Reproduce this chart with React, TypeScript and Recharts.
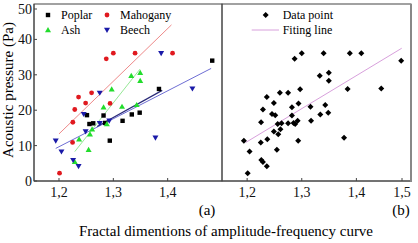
import React from "react";
import { Scatter, ScatterChart, XAxis, YAxis } from "recharts";

const SERIF = "'Liberation Serif', 'Times New Roman', serif";

// values: [fractal dimension, acoustic pressure]
const poplar = [
    [1.2515, 18.6], [1.282, 18.5], [1.256, 16.1], [1.263, 16.3], [1.285, 16.4], [1.317, 17.0],
    [1.334, 18.8], [1.3485, 19.3], [1.2935, 11.4], [1.384, 26.0], [1.482, 34.0],
];
const mahogany = [
    [1.201, 2.2], [1.225, 10.9], [1.2255, 16.6], [1.229, 20.2], [1.236, 23.7], [1.249, 22.0],
    [1.26, 24.9], [1.287, 34.5], [1.3, 36.1], [1.294, 21.9], [1.34, 36.1], [1.409, 36.1],
];
const ash = [
    [1.229, 5.4], [1.237, 11.8], [1.2545, 8.8], [1.257, 13.2], [1.261, 14.6], [1.288, 16.1],
    [1.282, 20.8], [1.297, 25.9], [1.316, 21.0], [1.333, 29.7], [1.3495, 30.6], [1.3495, 28.3],
    [1.343, 21.5],
];
const beech = [
    [1.194, 11.4], [1.2045, 8.3], [1.226, 5.9], [1.236, 4.2], [1.2455, 18.9], [1.249, 14.0],
    [1.275, 16.3], [1.275, 24.9], [1.2925, 17.0], [1.3775, 12.2], [1.388, 36.1], [1.4455, 26.1],
];

// fit line end points
const mahoganyFit = [[1.2, 13.3], [1.407, 44.1]];
const ashFit = [[1.229, 8.3], [1.349, 31.6]];
const beechFit = [[1.194, 9.2], [1.48, 31.8]];
const poplarFit = [[1.27, 15.4], [1.39, 25.6]];
const allFit = [[1.1976, 10.9], [1.483, 37.5]];

const xTicksA = [1.2, 1.3, 1.4];
const xTicksB = [1.2, 1.3, 1.4, 1.5];
const yTicks = [0, 10, 20, 30, 40, 50];
const X_DOMAIN = [1.154, 1.5];

const pts = (arr: number[][]) => arr.map(([x, y]) => ({ x, y }));
const allPoints = [...poplar, ...mahogany, ...ash, ...beech];

const fmt = (v: number) => v.toFixed(1).replace(".", ",");

const XTick = (props: any) => {
    const { x, y, payload } = props;
    return (
        <g>
            <line x1={x} x2={x} y1={y} y2={y - 3} stroke="#444" />
            <text x={x} y={y + 16} textAnchor="middle" fontSize={14} fontFamily={SERIF} fill="#111">
                {fmt(payload.value)}
            </text>
        </g>
    );
};

const YTick = (props: any) => {
    const { x, y, payload } = props;
    return (
        <g>
            <line x1={x} x2={x + 3} y1={y} y2={y} stroke="#444" />
            <text x={x - 2} y={y + 5} textAnchor="end" fontSize={14} fontFamily={SERIF} fill="#111">
                {payload.value}
            </text>
        </g>
    );
};

const Square = ({ cx, cy }: any) => <rect x={cx - 2.2} y={cy - 2.2} width={4.4} height={4.4} fill="#000" />;
const Dot = ({ cx, cy }: any) => <circle cx={cx} cy={cy} r={2.4} fill="#e0191f" />;
const TriUp = ({ cx, cy }: any) => (
    <polygon points={`${cx},${cy - 3} ${cx + 3},${cy + 2.2} ${cx - 3},${cy + 2.2}`} fill="#22dc2c" />
);
const TriDown = ({ cx, cy }: any) => (
    <polygon points={`${cx - 3},${cy - 2.2} ${cx + 3},${cy - 2.2} ${cx},${cy + 3}`} fill="#1a1aa8" />
);
const Diamond = ({ cx, cy }: any) => (
    <polygon points={`${cx},${cy - 3} ${cx + 3},${cy} ${cx},${cy + 3} ${cx - 3},${cy}`} fill="#000" />
);
const Nothing = () => <g />;

const fitLine = (data: number[][], stroke: string, w = 1) => (
    <Scatter
        data={pts(data)}
        line={{ stroke, strokeWidth: w }}
        lineType="joint"
        shape={Nothing}
        isAnimationActive={false}
    />
);

export default function App() {
    return (
        <div style={{ position: "absolute", left: 0, top: 0, width: 418, height: 243, background: "#fff" }}>
            <div style={{ position: "absolute", left: 0, top: 0 }}>
                <ScatterChart width={223} height={201} margin={{ top: 4, right: 1, bottom: 0, left: 0 }}>
                    <XAxis
                        type="number"
                        dataKey="x"
                        domain={X_DOMAIN}
                        ticks={xTicksA}
                        allowDataOverflow
                        height={20}
                        tickSize={0}
                        tickMargin={0}
                        tickLine={false}
                        tick={<XTick />}
                        stroke="#444"
                    />
                    <YAxis
                        type="number"
                        dataKey="y"
                        domain={[0, 50]}
                        ticks={yTicks}
                        allowDataOverflow
                        width={34}
                        tickSize={0}
                        tickMargin={0}
                        tickLine={false}
                        tick={<YTick />}
                        stroke="#444"
                    />
                    {fitLine(mahoganyFit, "#ee8a8a")}
                    {fitLine(ashFit, "#96e896")}
                    {fitLine(beechFit, "#6e6ed4")}
                    {fitLine(poplarFit, "#2a2a78", 1.2)}
                    <Scatter data={pts(poplar)} shape={Square} isAnimationActive={false} />
                    <Scatter data={pts(mahogany)} shape={Dot} isAnimationActive={false} />
                    <Scatter data={pts(ash)} shape={TriUp} isAnimationActive={false} />
                    <Scatter data={pts(beech)} shape={TriDown} isAnimationActive={false} />
                </ScatterChart>
            </div>
            <div style={{ position: "absolute", left: 222, top: 0 }}>
                <ScatterChart width={190} height={201} margin={{ top: 4, right: 1, bottom: 0, left: 0 }}>
                    <XAxis
                        type="number"
                        dataKey="x"
                        domain={X_DOMAIN}
                        ticks={xTicksB}
                        allowDataOverflow
                        height={20}
                        tickSize={0}
                        tickMargin={0}
                        tickLine={false}
                        tick={<XTick />}
                        stroke="#444"
                    />
                    <YAxis type="number" dataKey="y" domain={[0, 50]} allowDataOverflow hide />
                    {fitLine(allFit, "#d8a0dc")}
                    <Scatter data={pts(allPoints)} shape={Diamond} isAnimationActive={false} />
                </ScatterChart>
            </div>
            <svg
                width={418}
                height={243}
                style={{ position: "absolute", left: 0, top: 0, pointerEvents: "none" }}
                fontFamily={SERIF}
            >
                <rect x={34} y={4} width={188} height={177} fill="none" stroke="#444" />
                <rect x={222} y={4} width={189} height={177} fill="none" stroke="#444" />
                <line x1={411} x2={411} y1={4} y2={182} stroke="#888" strokeWidth={2} />

                {/* legend (a) */}
                <rect x={45.8} y={12.8} width={4.4} height={4.4} fill="#000" />
                <text x={61} y={19} fontSize={12}>Poplar</text>
                <circle cx={107} cy={15} r={2.4} fill="#e0191f" />
                <text x={120} y={19} fontSize={12}>Mahogany</text>
                <polygon points="48,27 51,32.2 45,32.2" fill="#22dc2c" />
                <text x={61} y={34} fontSize={12}>Ash</text>
                <polygon points="104,27.8 110,27.8 107,33" fill="#1a1aa8" />
                <text x={120} y={34} fontSize={12}>Beech</text>

                {/* legend (b) */}
                <polygon points="265.7,12 268.7,15 265.7,18 262.7,15" fill="#000" />
                <text x={282.7} y={19} fontSize={12}>Data point</text>
                <line x1={251.7} x2={279} y1={30} y2={30} stroke="#d8a0dc" />
                <text x={282.7} y={34} fontSize={12}>Fiting line</text>

                <text transform="translate(13,90) rotate(-90)" textAnchor="middle" fontSize={15}>
                    Acoustic pressure (Pa)
                </text>
                <text x={207} y={215} textAnchor="middle" fontSize={15}>(a)</text>
                <text x={401} y={215} textAnchor="middle" fontSize={15}>(b)</text>
                <text x={226} y={236} textAnchor="middle" fontSize={15}>
                    Fractal dimentions of amplitude-frequency curve
                </text>
            </svg>
        </div>
    );
}
